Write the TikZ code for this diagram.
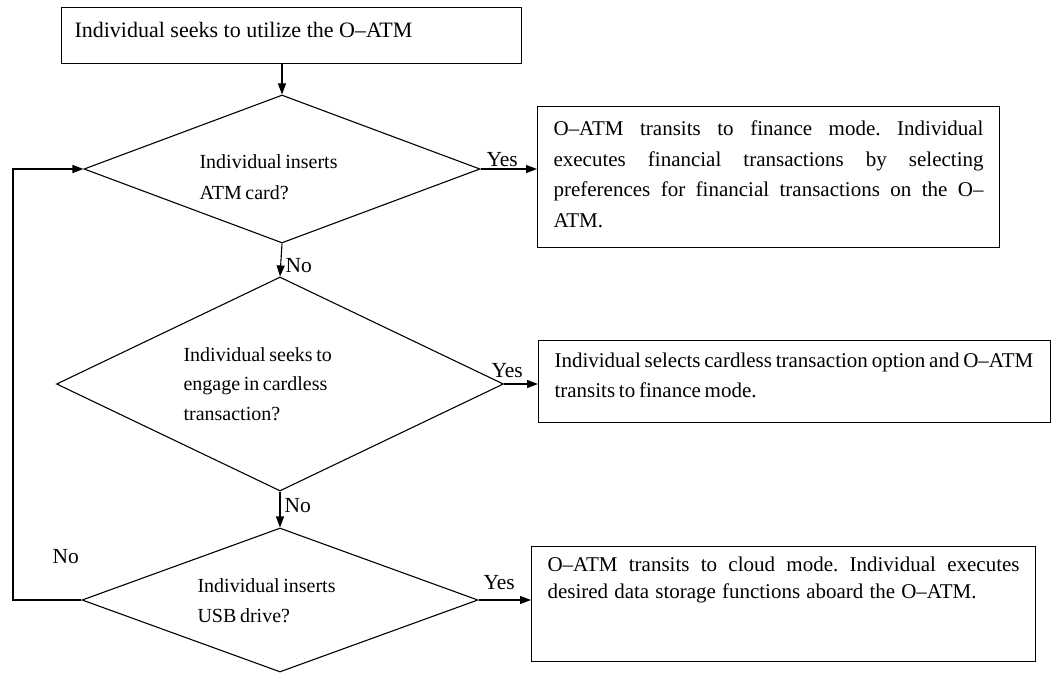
\documentclass[tikz,border=0pt]{standalone}
\usepackage{fontspec}
\setmainfont{Liberation Serif}
\usetikzlibrary{shapes.geometric,arrows.meta}

% fixed-size, top-aligned text block inside a process box
\newcommand\procpar[3]{\parbox[c][#2][t]{#1}{#3}}

\begin{document}
\frenchspacing
\begin{tikzpicture}[x=1pt,y=-1pt,
  line width=1.1pt,
  flow/.style={-{Triangle[length=11pt,width=8pt]}},
  decision/.style={draw, shape=diamond, inner sep=0pt, aspect=2.7},
  procbox/.style={draw, rectangle, anchor=north west},
  qtext/.style={inner sep=0pt, anchor=base west},
  tag/.style={inner sep=0pt, anchor=base west, font=\fontsize{21.5}{24}\selectfont},
]
\useasboundingbox[fill=white] (0,0) rectangle (1052,674);

% start
\node[procbox, inner xsep=13pt, inner ysep=15pt, font=\fontsize{22}{26}\selectfont] (start) at (61,7)
  {\procpar{434pt}{26pt}{Individual seeks to utilize the O–ATM}};

% decisions
\node[decision, minimum width=396pt, minimum height=148pt] (d1) at (282,169) {};
\node[decision, minimum width=447pt, minimum height=214pt] (d2) at (280,384) {};
\node[decision, minimum width=396pt, minimum height=144pt] (d3) at (280,600) {};

\node[qtext, font=\fontsize{20}{31}\selectfont] (d1t) at (199,168)
  {\spaceskip=0.18em\parbox[t]{200pt}{\raggedright Individual inserts\\ATM card?}};
\node[qtext, font=\fontsize{20}{29.5}\selectfont] (d2t) at (183,361)
  {\spaceskip=0.18em\parbox[t]{200pt}{\raggedright Individual seeks to\\engage in cardless\\transaction?}};
\node[qtext, font=\fontsize{20}{30}\selectfont] (d3t) at (197,592)
  {\spaceskip=0.18em\parbox[t]{200pt}{\raggedright Individual inserts\\USB drive?}};

% outcomes
\node[procbox, inner xsep=16pt, inner ysep=14pt, font=\fontsize{21}{30.7}\selectfont] (b1) at (537,106)
  {\procpar{430pt}{113pt}{%
    \makebox[\linewidth][s]{O–ATM transits to finance mode. Individual}\\
    \makebox[\linewidth][s]{executes financial transactions by selecting}\\
    \makebox[\linewidth][s]{preferences for financial transactions on the O–}\\
    ATM.}};
\node[procbox, inner xsep=16pt, inner ysep=12.5pt, font=\fontsize{21}{30}\selectfont] (b2) at (538,340)
  {\procpar{480pt}{57pt}{\spaceskip=0.18em\raggedright
    \mbox{Individual selects cardless transaction option and O–ATM}\\transits to finance mode.}};
\node[procbox, inner xsep=16pt, inner ysep=10pt, font=\fontsize{21}{27}\selectfont] (b3) at (531,546)
  {\procpar{472pt}{95pt}{%
    \makebox[\linewidth][s]{O–ATM transits to cloud mode. Individual executes}\\
    \spaceskip=0.29em desired data storage functions aboard the O–ATM.}};

% connectors
\draw[flow] (start.south -| d1.north) -- (d1.north);
\draw[flow] (d1.east) -- (d1.east -| b1.west);
\draw[flow] (d1.south) -- (d2.north);
\draw[flow] (d2.east) -- (d2.east -| b2.west);
\draw[flow] (d2.south) -- (d3.north);
\draw[flow] (d3.east) -- (d3.east -| b3.west);
\coordinate (loopx) at (13,600);
\draw[flow] (d3.west) -- (loopx) |- (d1.west);

% branch labels
\node[tag] (y1) at (486,166) {Yes};
\node[tag] (n1) at (285,272) {No};
\node[tag] (y2) at (491,377) {Yes};
\node[tag] (n2) at (284,512) {No};
\node[tag] (n3) at (52,563) {No};
\node[tag] (y3) at (483,589) {Yes};
\end{tikzpicture}
\end{document}
